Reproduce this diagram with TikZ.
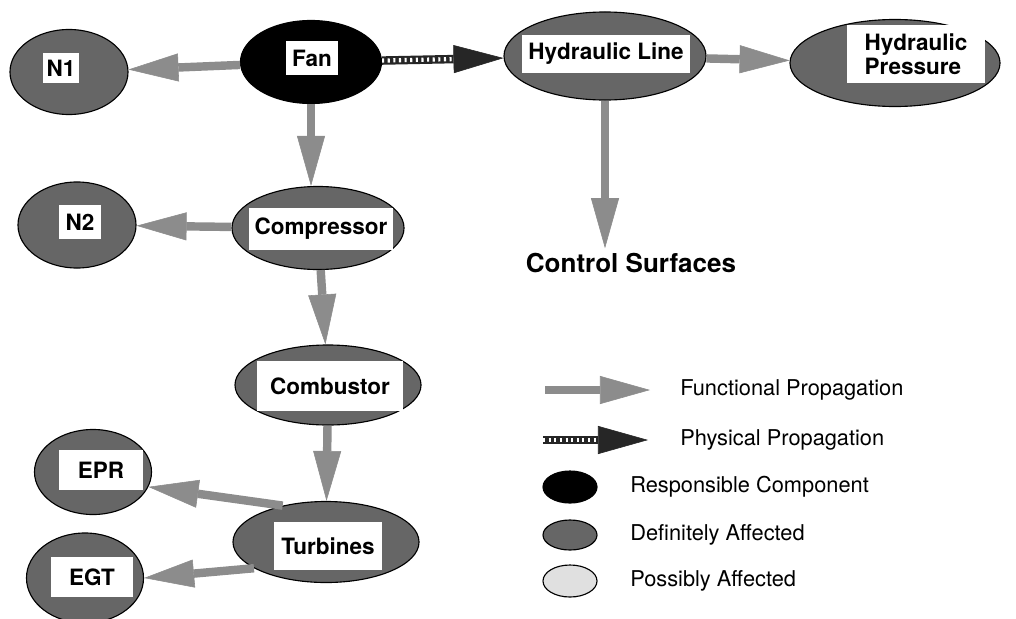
\documentclass[tikz,border=0pt]{standalone}
\usepackage{fontspec}
\setmainfont{TeX Gyre Heros}
\usetikzlibrary{arrows.meta,shapes.geometric,positioning}
\begin{document}
\begin{tikzpicture}[x=0.025cm, y=-0.025cm,
   part/.style={ellipse, inner sep=0, draw=black, thick},
   resp/.style={part, fill=black},
   sure/.style={part, fill=black!60},
   maybe/.style={part, fill=black!12},
   tag/.style={rectangle, fill=white, inner sep=0, font=\bfseries\fontsize{16}{17}\selectfont},
   func/.style={draw=black!45, line width=6pt, -{Triangle[length=1.25cm, width=0.7cm, line width=0.4pt]}},
   phys/.style={draw=black!85, line width=6pt, -{Triangle[length=1.25cm, width=0.7cm, line width=0.4pt]},
      postaction={draw=white, line width=3pt, dash pattern=on 1.5pt off 2.5pt, -, shorten >=1.3cm}},
   key/.style={anchor=west, inner sep=0, font=\fontsize{15.5}{17}\selectfont}]
   \useasboundingbox (0,0) rectangle (1016,618);

   \node (fan) at (311,62) [resp, minimum width=3.525cm, minimum height=2.075cm] {};
   \node (fant) at (312,58) [tag, minimum width=1.275cm, minimum height=0.825cm] {Fan};
   \node (n1) at (69,72) [sure, minimum width=2.95cm, minimum height=2.125cm] {};
   \node (n1t) at (61,68) [tag, minimum width=0.9cm, minimum height=0.75cm] {N1};
   \node (hline) at (605,56) [sure, minimum width=5.05cm, minimum height=2.2cm] {};
   \node (hlinet) at (606,54) [tag, minimum width=4.175cm, minimum height=0.95cm] {Hydraulic Line};
   \node (hpress) at (895,63) [sure, minimum width=5.25cm, minimum height=2.175cm] {};
   \node (hpresst) at (916,54) [tag, align=left, minimum width=3.45cm, minimum height=1.45cm] {Hydraulic\\Pressure};
   \node (comp) at (318,228) [sure, minimum width=4.3cm, minimum height=2.075cm] {};
   \node (compt) at (321,229) [tag, minimum width=3.575cm, minimum height=1.05cm] {Compressor};
   \node (n2) at (77,225) [sure, minimum width=2.95cm, minimum height=2.15cm] {};
   \node (n2t) at (80,222) [tag, minimum width=1.025cm, minimum height=0.85cm] {N2};
   \node (comb) at (328,385) [sure, minimum width=4.65cm, minimum height=2cm] {};
   \node (combt) at (330,386) [tag, minimum width=3.625cm, minimum height=1.25cm] {Combustor};
   \node (turb) at (326,542) [sure, minimum width=4.65cm, minimum height=2.025cm] {};
   \node (turbt) at (328,546) [tag, minimum width=2.675cm, minimum height=1.2cm] {Turbines};
   \node (epr) at (93,472) [sure, minimum width=2.925cm, minimum height=2.125cm] {};
   \node (eprt) at (101,470) [tag, minimum width=2.075cm, minimum height=1cm] {EPR};
   \node (egt) at (85,578) [sure, minimum width=2.925cm, minimum height=2.25cm] {};
   \node (egtt) at (92,577) [tag, minimum width=2.025cm, minimum height=1cm] {EGT};
   \node (ctrl) at (631,263) [font=\bfseries\fontsize{18.5}{20}\selectfont] {Control Surfaces};

   \draw (fan)[func] -- (n1);
   \draw (fan)[phys] -- (hline);
   \draw (fan.south)[func] -- (fan.south |- comp.north);
   \draw (hline)[func] -- (hpress);
   \draw (hline)[func] -- (hline |- ctrl.north);
   \draw (comp)[func] -- (n2);
   \draw (comp)[func] -- (comb);
   \draw (comb)[func] -- (turb);
   \draw (turb.140)[func] -- (epr.-15);
   \draw (turb.200)[func] -- (egt.east);

   \coordinate (fa) at (545,390);
   \coordinate (fb) at (650,390);
   \draw (fa)[func] -- (fb);
   \node (fkey) at (680,390) [key] {Functional Propagation};
   \coordinate (pa) at (543,440);
   \coordinate (pb) at (648,440);
   \draw (pa)[phys] -- (pb);
   \node (pkey) at (680,440) [key] {Physical Propagation};
   \node (kr) at (570,487) [resp, minimum width=1.35cm, minimum height=0.8cm] {};
   \node (krt) at (630,487) [key] {Responsible Component};
   \node (ks) at (570,535) [sure, minimum width=1.35cm, minimum height=0.75cm] {};
   \node (kst) at (630,535) [key] {Definitely Affected};
   \node (km) at (570,581) [maybe, minimum width=1.35cm, minimum height=0.8cm] {};
   \node (kmt) at (630,581) [key] {Possibly Affected};

\end{tikzpicture}
\end{document}
